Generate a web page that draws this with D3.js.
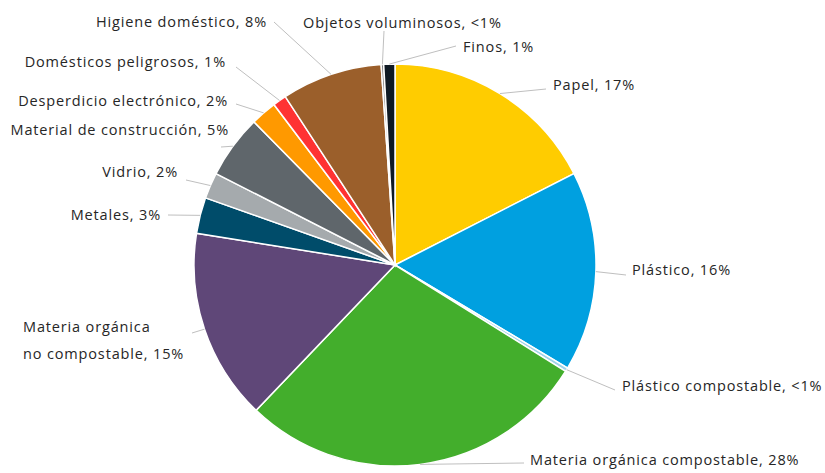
<!DOCTYPE html>
<html>
<head>
<meta charset="utf-8">
<script src="https://cdn.jsdelivr.net/npm/d3@7"></script>
<style>
  body { margin: 0; background: #fff; }
  text { font-family: "Open Sans", sans-serif; font-size: 14.5px; fill: #262626; letter-spacing: 0.85px; }
</style>
</head>
<body>
<svg id="chart"></svg>
<script>
// categories in clockwise order from 12 o'clock
var categories = ["Papel", "Plástico", "Plástico compostable", "Materia orgánica compostable",
                  "Materia orgánica no compostable", "Metales", "Vidrio", "Material de construcción",
                  "Desperdicio electrónico", "Domésticos peligrosos", "Higiene doméstico",
                  "Objetos voluminosos", "Finos"];
var shares = [17.5, 16.1, 0.3, 28.3, 15.4, 2.9, 2.1, 5.1, 2.1, 1.1, 8.1, 0.2, 0.9];
var shareLabels = ["17%", "16%", "<1%", "28%", "15%", "3%", "2%", "5%", "2%", "1%", "8%", "<1%", "1%"];
var colors = ["#FFCC00", "#00A0E0", "#9ED3E8", "#43AE2C", "#5F4778", "#004C6A", "#A5AAAD",
              "#5F666B", "#FF9900", "#FF3333", "#9B5F2B", "#7F7F7F", "#0F1A24"];

// label layout: text anchor point and where the leader line ends
var labelLayout = [
  { x: 553, y: 85,  anchor: "start", end: [546, 89] },
  { x: 632, y: 270, anchor: "start", end: [626, 275] },
  { x: 622, y: 386, anchor: "start", end: [615, 390] },
  { x: 530, y: 460, anchor: "start", end: [524, 463] },
  { x: 23,  y: 327, anchor: "start", end: [192, 333], lines: ["Materia orgánica", "no compostable, 15%"] },
  { x: 161, y: 215, anchor: "end",   end: [168, 215] },
  { x: 178, y: 172, anchor: "end",   end: [186, 180] },
  { x: 229, y: 130, anchor: "end",   end: [221, 147] },
  { x: 228, y: 101, anchor: "end",   end: [236, 104] },
  { x: 226, y: 62,  anchor: "end",   end: [236, 67] },
  { x: 267, y: 22,  anchor: "end",   end: [274, 22] },
  { x: 303, y: 23,  anchor: "start", end: [384, 31] },
  { x: 463, y: 47,  anchor: "start", end: [456, 46] }
];

var width = 825, height = 473;
var cx = 395, cy = 265, radius = 201;

var svg = d3.select("#chart")
            .attr("width", width)
            .attr("height", height);

var data = categories.map(function (c, i) {
  return { name: c, value: shares[i], label: shareLabels[i], color: colors[i], layout: labelLayout[i] };
});

var pie = d3.pie().sort(null).value(function (d) { return d.value; });
var arc = d3.arc().innerRadius(0).outerRadius(radius);
var slices = pie(data);

var g = svg.append("g").attr("transform", "translate(" + cx + "," + cy + ")");

g.selectAll(".slice")
  .data(slices)
  .enter()
  .append("path")
  .attr("class", "slice")
  .attr("fill", function (d) { return d.data.color; })
  .attr("stroke", "#fff")
  .attr("stroke-width", 1.5)
  .attr("d", arc);

// leader lines from slice edge (mid angle) to label
svg.selectAll(".leader")
  .data(slices)
  .enter()
  .append("line")
  .attr("class", "leader")
  .attr("x1", function (d) { return cx + radius * Math.sin((d.startAngle + d.endAngle) / 2); })
  .attr("y1", function (d) { return cy - radius * Math.cos((d.startAngle + d.endAngle) / 2); })
  .attr("x2", function (d) { return d.data.layout.end[0]; })
  .attr("y2", function (d) { return d.data.layout.end[1]; })
  .attr("stroke", "#BFBFBF")
  .attr("stroke-width", 1);

var labels = svg.selectAll(".lbl")
  .data(slices)
  .enter()
  .append("text")
  .attr("class", "lbl")
  .attr("text-anchor", function (d) { return d.data.layout.anchor; })
  .attr("x", function (d) { return d.data.layout.x; })
  .attr("y", function (d) { return d.data.layout.y; })
  .attr("dy", "0.35em");

labels.each(function (d) {
  var t = d3.select(this);
  if (d.data.layout.lines) {
    d.data.layout.lines.forEach(function (ln, i) {
      t.append("tspan").attr("x", d.data.layout.x).attr("dy", i == 0 ? "0.35em" : 27).text(ln);
    });
  } else {
    t.text(d.data.name + ", " + d.data.label);
  }
});
</script>
</body>
</html>
